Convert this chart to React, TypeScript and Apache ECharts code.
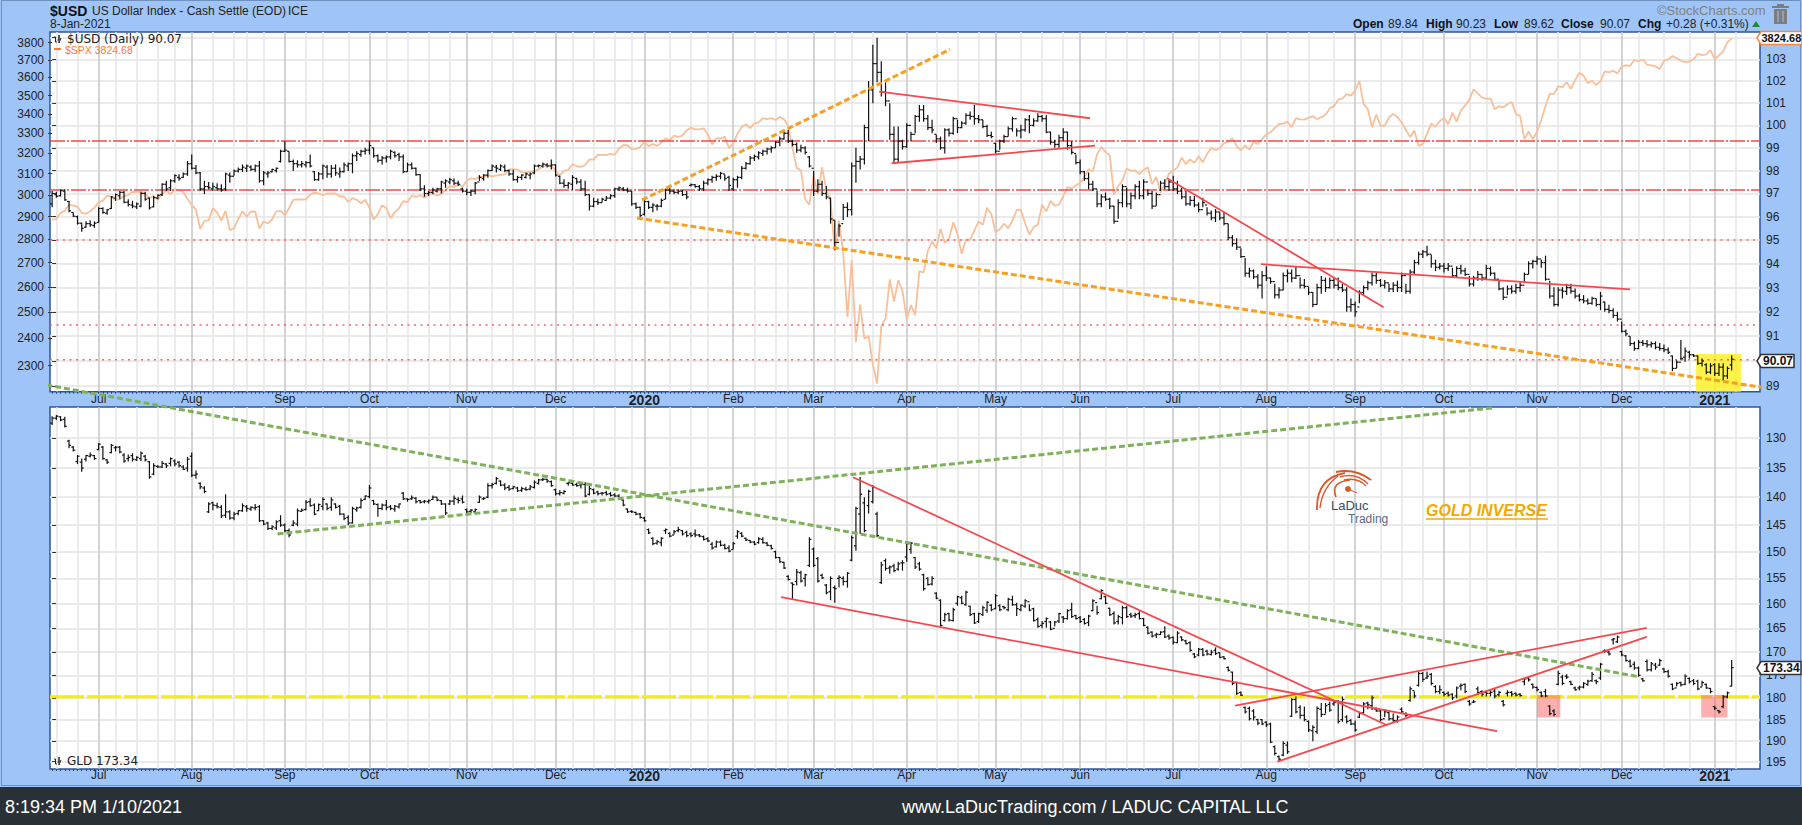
import React, { useEffect, useRef } from "react";
import * as echarts from "echarts";

// [open, high, low, close], one row per trading day, Jun 14 2019 - Jan 8 2021
const usdBars = [
[96.55,97.11,96.40,97.00],[96.95,97.07,96.82,96.88],[96.90,97.18,96.87,97.12],[97.10,97.18,96.68,96.72],[96.65,96.68,96.19,96.25],[96.18,96.19,95.98,96.02],[96.00,96.05,95.66,95.72],[95.72,95.74,95.35,95.50],[95.55,95.80,95.52,95.70],[95.70,95.84,95.56,95.65],
[95.62,95.80,95.52,95.72],[95.75,96.40,95.74,96.35],[96.35,96.40,96.12,96.18],[96.15,96.33,96.08,96.30],[96.35,96.89,96.33,96.85],[96.80,97.00,96.68,96.95],[96.90,97.11,96.75,97.05],[97.05,97.11,96.58,96.62],[96.62,96.75,96.44,96.52],[96.50,96.68,96.36,96.45],
[96.42,96.61,96.33,96.55],[96.45,97.07,96.40,97.00],[97.00,97.07,96.68,96.75],[96.80,96.82,96.30,96.38],[96.42,96.89,96.40,96.82],[96.80,96.97,96.75,96.92],[96.95,97.45,96.89,97.40],[97.40,97.55,97.11,97.20],[97.25,97.62,97.11,97.55],[97.55,97.84,97.47,97.78],
[97.70,97.84,97.55,97.65],[97.70,97.91,97.69,97.85],[97.85,98.42,97.77,98.30],[98.30,98.71,98.05,98.10],[98.10,98.24,97.84,97.90],[97.90,97.94,97.11,97.20],[97.20,97.55,96.97,97.30],[97.30,97.50,97.18,97.25],[97.20,97.47,97.11,97.30],[97.25,97.45,97.11,97.20],
[97.20,97.40,97.07,97.15],[97.20,97.91,97.11,97.85],[97.80,97.91,97.47,97.75],[97.75,98.05,97.77,97.98],[97.98,98.13,97.91,98.05],[98.05,98.27,97.94,98.15],[98.10,98.27,97.94,98.20],[98.15,98.23,97.98,98.05],[98.05,98.27,97.94,98.20],[98.20,98.42,97.47,97.55],
[97.55,97.98,97.36,97.90],[97.85,97.98,97.69,97.90],[97.95,98.08,97.91,98.05],[98.00,98.13,97.91,98.10],[98.40,98.92,98.35,98.85],[98.85,99.29,98.82,98.90],[98.85,98.85,98.35,98.40],[98.40,98.49,97.98,98.30],[98.30,98.45,98.13,98.25],[98.25,98.42,98.13,98.30],
[98.25,98.42,98.13,98.35],[98.35,98.71,98.13,98.20],[97.95,97.98,97.55,97.60],[97.60,97.94,97.55,97.85],[97.85,98.27,97.62,98.20],[98.15,98.24,97.69,97.85],[97.85,98.24,97.69,98.10],[98.10,98.27,97.77,97.90],[97.85,98.13,97.69,97.95],[97.95,98.35,97.91,98.25],
[98.20,98.35,97.98,98.30],[98.30,98.75,97.88,98.65],[98.65,98.85,98.42,98.75],[98.70,98.92,98.61,98.85],[98.85,99.00,98.71,98.90],[98.90,99.29,98.71,99.10],[99.00,99.00,98.56,98.65],[98.65,98.71,98.35,98.45],[98.45,98.64,98.27,98.55],[98.55,98.66,98.35,98.60],
[98.60,98.92,98.49,98.85],[98.80,98.85,98.56,98.65],[98.70,98.78,98.42,98.60],[98.60,98.71,97.88,97.95],[97.95,98.35,97.94,98.25],[98.25,98.35,98.05,98.10],[98.10,98.13,97.77,97.82],[97.82,97.84,97.11,97.20],[97.20,97.36,96.86,97.00],[97.00,97.11,96.89,97.05],
[97.05,97.25,96.97,97.15],[97.10,97.25,97.04,97.20],[97.20,97.55,97.00,97.50],[97.45,97.62,97.25,97.55],[97.50,97.69,97.40,97.60],[97.55,97.65,97.36,97.45],[97.45,97.55,97.33,97.40],[97.20,97.25,97.04,97.10],[97.10,97.21,96.92,97.05],[97.05,97.15,96.89,97.10],
[97.10,97.50,96.97,97.45],[97.50,97.80,97.55,97.70],[97.65,97.84,97.55,97.80],[97.80,98.05,97.69,98.00],[98.00,98.27,97.98,98.20],[98.15,98.24,97.91,98.10],[98.05,98.27,97.98,98.20],[98.15,98.27,97.94,98.00],[98.00,98.05,97.77,97.85],[97.85,98.03,97.55,97.60],
[97.60,97.77,97.47,97.70],[97.70,97.84,97.59,97.80],[97.70,97.91,97.65,97.85],[97.80,97.91,97.62,97.85],[97.90,98.27,97.84,98.20],[98.20,98.27,98.13,98.22],[98.20,98.35,98.13,98.28],[98.25,98.32,98.13,98.20],[98.20,98.49,98.05,98.25],[98.25,98.27,97.74,97.80],
[97.75,97.77,97.40,97.45],[97.45,97.62,97.25,97.35],[97.35,97.50,97.21,97.45],[97.40,97.80,97.15,97.70],[97.65,97.69,97.40,97.50],[97.50,97.62,97.11,97.20],[97.20,97.55,96.89,96.95],[96.95,96.97,96.26,96.45],[96.45,96.82,96.40,96.65],[96.65,96.78,96.50,96.60],
[96.60,96.82,96.61,96.75],[96.70,96.89,96.68,96.80],[96.80,96.97,96.75,96.90],[96.90,97.25,96.82,97.20],[97.20,97.30,97.11,97.25],[97.20,97.28,97.11,97.15],[97.15,97.25,97.04,97.10],[97.10,97.11,96.47,96.55],[96.55,96.61,96.33,96.40],[96.40,96.44,95.98,96.05],
[96.10,96.75,96.05,96.65],[96.65,96.68,96.33,96.40],[96.40,96.58,96.19,96.50],[96.45,96.54,96.26,96.45],[96.45,96.78,96.40,96.70],[96.75,97.21,96.75,97.15],[97.15,97.25,96.97,97.10],[97.10,97.18,96.97,97.05],[97.05,97.18,96.97,97.10],[97.10,97.15,96.89,96.95],
[96.95,97.11,96.75,96.85],[97.35,97.43,97.30,97.38],[97.38,97.40,97.25,97.30],[97.30,97.37,97.11,97.20],[97.20,97.55,97.11,97.45],[97.45,97.65,97.36,97.60],[97.60,97.77,97.47,97.70],[97.70,97.84,97.55,97.75],[97.75,97.94,97.62,97.88],[97.85,97.84,97.55,97.65],
[97.70,97.77,97.11,97.35],[97.20,97.69,97.11,97.60],[97.60,97.77,97.25,97.70],[97.70,98.20,97.62,98.10],[98.10,98.37,98.05,98.30],[98.30,98.64,98.27,98.55],[98.55,98.71,98.42,98.62],[98.60,98.85,98.49,98.78],[98.75,98.92,98.64,98.85],[98.85,99.00,98.71,98.95],
[98.95,99.07,98.78,99.00],[99.00,99.29,99.00,99.25],[99.25,99.50,99.07,99.40],[99.40,99.71,99.36,99.65],[99.65,99.79,99.22,99.30],[99.30,99.36,99.07,99.15],[99.15,99.24,98.78,98.90],[98.90,99.14,98.81,99.00],[99.00,99.07,98.71,98.80],[98.60,98.64,98.13,98.20],
[98.10,97.98,96.89,97.10],[97.10,97.62,97.04,97.40],[97.40,97.55,96.89,97.00],[97.00,97.33,96.75,96.85],[96.80,96.82,95.70,95.90],[95.85,95.84,94.58,94.90],[94.90,95.70,95.14,95.60],[95.70,96.54,95.84,96.40],[96.40,96.61,95.98,96.30],[96.30,98.35,96.05,98.20],
[98.20,99.00,97.47,98.40],[98.40,98.64,98.05,98.50],[98.50,100.03,98.27,99.90],[99.90,102.00,99.29,101.60],[101.60,103.67,101.00,102.80],[102.80,104.00,101.95,102.40],[102.40,102.91,101.30,101.50],[101.50,102.00,100.86,101.10],[101.10,101.00,99.36,99.60],[99.60,99.95,98.35,98.50],
[98.50,99.95,98.35,99.30],[99.30,99.36,98.92,99.05],[99.05,100.10,99.00,100.00],[100.00,99.72,99.29,99.60],[99.60,100.47,99.65,100.40],[100.40,100.92,100.16,100.70],[100.70,100.92,100.16,100.30],[100.30,100.47,99.79,99.90],[99.90,100.25,99.65,99.80],[99.60,99.58,99.22,99.40],
[99.40,99.50,98.92,99.00],[99.00,99.87,98.75,99.80],[99.80,99.87,99.50,99.65],[99.65,100.39,99.58,100.30],[100.30,100.25,99.65,99.90],[99.90,100.18,99.87,100.10],[100.10,100.54,100.03,100.45],[100.45,100.62,100.25,100.40],[100.40,100.92,100.03,100.30],[100.30,100.47,100.10,100.25],
[100.25,100.25,99.87,99.95],[99.95,100.03,99.48,99.55],[99.55,99.72,99.43,99.50],[99.20,99.22,98.75,98.85],[98.85,99.36,98.92,99.30],[99.30,99.58,99.22,99.50],[99.50,99.95,99.50,99.85],[99.85,100.39,99.72,100.30],[100.30,99.87,99.50,99.75],[99.75,100.03,99.43,99.80],
[99.80,100.32,99.72,100.25],[100.25,100.47,99.65,100.00],[100.00,100.32,99.95,100.20],[100.20,100.54,100.16,100.40],[100.40,100.47,100.16,100.30],[100.30,100.47,99.65,99.70],[99.70,99.72,99.14,99.25],[99.25,99.36,99.00,99.15],[99.15,99.58,99.00,99.45],[99.45,99.87,99.29,99.70],
[99.70,99.72,98.92,99.10],[99.10,99.29,98.71,98.80],[98.75,98.71,98.27,98.35],[98.35,98.49,97.84,97.95],[97.95,97.98,97.55,97.65],[97.65,97.91,97.18,97.40],[97.40,97.55,97.11,97.20],[97.20,97.11,96.40,96.55],[96.55,96.97,96.40,96.85],[96.85,97.04,96.68,96.75],
[96.75,96.82,96.33,96.45],[96.45,96.47,95.70,95.80],[95.80,96.75,95.91,96.60],[96.60,97.40,96.40,97.30],[97.30,97.25,96.40,96.55],[96.55,97.04,96.33,96.90],[96.90,97.40,96.75,97.30],[97.30,97.55,96.75,96.90],[96.90,97.62,96.75,97.50],[97.50,97.18,96.89,97.00],
[97.00,97.11,96.33,96.45],[96.45,97.04,96.47,96.95],[96.95,97.55,97.11,97.45],[97.45,97.62,97.18,97.30],[97.30,97.62,97.11,97.50],[97.50,97.77,97.11,97.20],[97.20,97.55,96.97,97.10],[97.10,97.25,96.75,96.85],[96.85,97.11,96.47,96.55],[96.55,96.89,96.47,96.70],
[96.70,96.89,96.40,96.50],[96.50,96.61,96.19,96.30],[96.30,96.82,96.40,96.60],[96.50,96.40,96.05,96.15],[96.15,96.26,95.84,95.95],[95.95,96.33,95.77,96.20],[96.20,96.19,95.84,95.95],[95.95,96.19,95.63,95.70],[95.70,95.70,95.00,95.10],[95.10,95.21,94.72,94.85],
[94.85,95.08,94.58,94.70],[94.70,94.65,94.24,94.30],[94.30,94.24,93.45,93.60],[93.60,93.83,93.42,93.70],[93.70,93.76,93.36,93.45],[93.45,93.56,92.96,93.10],[93.10,93.69,92.55,93.50],[93.50,93.89,93.28,93.40],[93.40,93.42,93.16,93.25],[93.25,93.16,92.55,92.70],
[92.70,93.02,92.55,92.90],[92.90,93.63,92.89,93.50],[93.50,93.76,93.22,93.60],[93.60,93.76,93.22,93.40],[93.40,93.89,93.36,93.50],[93.50,93.42,92.96,93.10],[93.10,93.36,92.96,93.05],[93.05,93.02,92.69,92.80],[92.80,92.82,92.19,92.30],[92.30,93.16,92.29,93.00],
[93.00,93.49,92.75,93.30],[93.30,93.42,92.82,93.00],[93.00,93.42,92.96,93.30],[93.30,93.42,92.96,93.10],[93.10,93.42,92.89,93.00],[93.00,93.16,92.82,92.90],[92.90,93.02,92.00,92.20],[92.20,92.55,92.00,92.30],[92.30,92.42,91.80,92.00],[92.20,92.89,92.35,92.80],
[92.80,93.09,92.69,93.00],[93.00,93.29,92.89,93.20],[93.20,93.63,93.09,93.50],[93.50,93.63,93.16,93.30],[93.30,93.36,93.02,93.10],[93.10,93.32,92.96,93.20],[93.20,93.16,92.82,92.95],[92.95,93.22,92.82,93.10],[93.10,93.29,92.82,93.00],[93.00,93.63,92.82,93.50],
[93.50,93.16,92.75,92.85],[92.85,93.76,92.75,93.65],[93.65,94.17,93.56,94.05],[94.05,94.51,93.96,94.40],[94.40,94.58,94.24,94.50],[94.50,94.76,94.31,94.40],[94.40,94.38,93.83,94.00],[94.00,94.17,93.69,93.85],[93.85,94.03,93.76,93.90],[93.90,94.03,93.63,93.80],
[93.80,94.03,93.69,93.90],[93.90,93.83,93.42,93.50],[93.50,93.89,93.42,93.80],[93.80,93.96,93.56,93.70],[93.70,93.83,93.49,93.55],[93.55,93.49,93.05,93.15],[93.15,93.49,93.05,93.40],[93.40,93.69,93.29,93.55],[93.55,93.56,93.29,93.40],[93.40,93.96,93.36,93.80],
[93.80,93.89,93.49,93.60],[93.60,93.63,93.29,93.35],[93.35,93.29,92.89,92.95],[92.95,93.02,92.49,92.60],[92.60,93.09,92.69,92.95],[92.95,93.09,92.75,92.85],[92.85,93.16,92.75,93.00],[93.00,93.22,92.82,93.10],[93.10,93.63,93.22,93.55],[93.55,94.10,93.56,94.00],
[94.00,94.17,93.80,94.10],[94.10,94.31,93.96,94.20],[94.20,94.17,93.83,94.05],[94.05,94.34,93.29,93.35],[93.35,93.29,92.55,92.65],[92.65,93.02,92.22,92.30],[92.30,93.02,92.22,92.90],[92.90,93.02,92.55,92.85],[92.85,93.16,92.69,93.00],[93.00,93.16,92.75,92.85],
[92.85,92.96,92.55,92.65],[92.65,92.75,92.42,92.50],[92.50,92.69,92.35,92.45],[92.45,92.55,92.29,92.35],[92.35,92.62,92.29,92.55],[92.55,92.55,92.22,92.30],[92.30,92.82,92.07,92.65],[92.40,92.42,92.00,92.10],[92.10,92.29,91.94,92.05],[92.05,92.15,91.74,91.85],
[91.85,92.00,91.60,91.70],[91.70,91.60,91.15,91.20],[91.20,91.27,91.00,91.10],[91.00,91.00,90.60,90.70],[90.70,90.79,90.41,90.50],[90.50,90.85,90.47,90.75],[90.75,90.85,90.60,90.70],[90.70,90.85,90.54,90.65],[90.65,90.79,90.54,90.70],[90.70,90.79,90.47,90.55],
[90.55,90.72,90.41,90.50],[90.50,90.66,90.35,90.45],[90.45,90.54,90.28,90.35],[90.20,90.22,89.59,89.70],[89.70,90.03,89.72,89.95],[89.95,90.85,90.03,90.10],[90.15,90.54,89.97,90.40],[90.35,90.41,90.10,90.25],[90.25,90.28,90.16,90.20],[90.20,90.22,89.84,89.90],
[89.90,90.10,89.78,90.00],[89.85,89.91,89.47,89.55],[89.55,89.91,89.47,89.80],[89.85,89.91,89.40,89.50],[89.50,89.91,89.40,89.75],[89.75,89.91,89.21,89.40],[89.40,89.78,89.28,89.70],[89.84,90.23,89.62,90.07],
];

// [open, high, low, close] of GLD; the lower panel's axis runs upside down
const gldBars = [
[127.6,127.9,126.5,126.8],[126.8,127.1,126.3,126.5],[126.6,127.3,126.5,127.1],[127.0,128.3,126.6,128.1],[130.5,131.7,130.3,131.2],[131.5,132.2,131.3,132.0],[133.9,134.3,132.8,133.0],[134.0,135.6,133.4,135.0],[133.5,133.9,132.8,132.9],[133.0,133.2,132.4,132.8],
[132.9,133.6,132.8,133.4],[131.9,132.0,130.8,131.0],[131.5,133.6,131.3,133.4],[133.6,134.3,133.5,134.0],[132.4,132.5,131.0,131.2],[131.6,132.2,131.3,131.5],[131.5,132.5,131.3,132.3],[132.8,134.1,132.5,133.8],[133.4,133.9,132.7,133.2],[132.9,133.9,132.5,133.5],
[133.6,133.8,133.0,133.2],[133.4,133.8,132.2,132.5],[133.0,133.9,132.8,133.6],[133.9,136.8,133.8,136.5],[136.0,136.2,134.2,134.6],[134.7,135.0,134.5,134.8],[134.8,135.0,133.8,134.2],[134.3,135.0,134.2,134.6],[134.2,134.7,133.2,133.4],[133.8,134.7,133.5,134.3],
[134.0,134.9,133.8,134.6],[134.8,135.3,134.5,135.2],[135.0,135.6,133.1,133.5],[133.0,136.5,132.4,136.2],[136.2,136.8,135.4,136.0],[137.6,138.6,137.4,138.2],[138.4,139.3,138.1,139.0],[142.6,142.8,140.9,141.2],[141.0,142.3,140.8,141.4],[141.5,142.0,141.0,141.7],
[141.8,143.7,141.4,143.3],[143.2,143.7,139.5,142.6],[142.6,144.0,142.3,143.7],[143.7,144.1,142.6,143.0],[142.9,143.2,142.3,142.4],[142.4,142.6,141.1,141.5],[141.7,142.6,141.4,142.0],[142.1,142.4,141.6,141.8],[141.9,142.3,141.2,141.8],[141.7,144.4,141.4,144.2],
[144.2,145.0,144.1,144.8],[144.6,145.9,144.4,145.6],[145.6,145.9,145.0,145.3],[145.5,145.9,144.1,144.4],[144.2,145.3,143.2,145.0],[145.0,146.3,144.7,146.0],[146.0,147.2,145.6,146.8],[145.0,145.2,144.1,144.6],[144.8,145.2,142.0,142.4],[142.5,142.6,142.0,142.3],
[142.2,142.3,140.5,140.9],[140.8,141.7,140.2,141.5],[141.4,143.2,141.1,143.0],[142.4,142.4,141.1,141.3],[141.6,142.3,140.0,140.4],[141.2,142.3,141.1,142.0],[141.8,142.4,140.0,140.5],[141.2,142.0,141.1,141.8],[141.6,143.2,141.4,143.0],[143.0,144.1,142.9,143.8],
[143.6,145.0,143.2,144.6],[144.6,144.7,141.7,142.0],[142.2,142.6,141.7,141.9],[141.8,142.0,140.2,140.6],[140.4,140.5,139.7,139.8],[139.9,140.2,137.9,138.4],[140.6,141.4,140.5,141.2],[141.3,143.5,141.1,142.0],[142.0,142.3,141.1,141.4],[141.4,142.3,140.5,141.8],
[141.7,142.3,141.4,142.0],[142.1,142.6,141.4,141.6],[141.7,142.0,141.1,141.2],[139.3,140.5,139.1,140.3],[140.3,140.8,140.2,140.4],[140.3,140.5,139.7,140.1],[140.2,141.1,140.0,140.8],[140.6,141.1,140.5,140.9],[140.8,141.1,140.5,140.7],[140.8,141.1,140.4,140.6],
[140.4,140.5,139.7,140.0],[140.0,140.7,140.0,140.5],[140.6,141.4,140.5,141.2],[141.2,143.2,141.1,142.8],[141.2,141.4,140.5,140.7],[140.7,141.4,139.7,140.2],[140.4,141.1,140.0,140.6],[140.3,141.1,139.7,140.9],[142.2,142.9,142.0,142.6],[142.5,142.8,142.1,142.3],
[142.6,142.9,142.0,142.2],[140.9,141.0,139.7,140.0],[140.3,140.5,140.0,140.2],[140.0,140.2,137.6,138.0],[138.0,138.5,137.5,137.8],[137.6,137.8,136.5,136.8],[137.2,138.1,137.1,137.9],[137.9,138.8,137.6,138.4],[138.3,138.9,137.9,138.6],[138.5,138.6,138.0,138.2],
[138.4,139.1,138.2,138.9],[138.8,139.1,138.2,138.5],[138.6,138.9,138.2,138.7],[138.6,138.8,137.9,138.2],[138.3,138.5,137.1,137.4],[137.6,137.8,136.8,137.0],[137.0,137.2,136.7,136.9],[136.9,137.5,136.8,137.2],[137.3,138.2,137.1,138.0],[138.7,139.7,138.5,139.4],
[139.4,139.7,138.8,139.2],[139.3,139.5,138.8,139.0],[137.6,138.0,137.4,137.5],[137.6,138.0,137.4,137.9],[137.8,138.2,137.5,138.0],[137.9,138.5,137.6,137.8],[137.8,140.0,137.4,139.8],[139.5,139.7,137.9,138.5],[138.7,139.5,138.5,139.3],[139.1,139.7,138.9,139.4],
[139.3,139.7,139.1,139.3],[139.2,139.7,138.9,139.5],[139.4,139.9,139.1,139.7],[139.6,140.0,139.3,139.8],[139.8,140.4,139.5,140.3],[140.5,141.6,140.4,141.4],[142.1,142.8,142.0,142.6],[142.5,142.8,142.3,142.6],[142.7,143.2,142.6,143.0],[143.0,143.8,142.8,143.6],
[143.7,144.4,143.5,144.2],[145.8,146.6,145.6,146.4],[147.4,148.7,147.2,148.4],[148.3,148.6,147.7,148.0],[148.2,148.9,147.2,147.4],[146.0,146.6,145.6,145.8],[146.5,147.2,146.3,147.0],[146.8,146.7,145.9,146.2],[146.0,146.3,145.3,145.8],[146.0,146.9,145.9,146.6],
[146.3,147.2,146.0,146.9],[146.6,147.2,146.3,146.9],[146.6,147.2,145.8,146.8],[146.8,147.2,146.6,147.0],[147.1,147.8,146.9,147.6],[147.5,148.1,147.2,147.9],[148.5,149.5,148.1,149.2],[149.0,149.1,147.8,148.1],[148.1,148.9,147.8,148.7],[148.7,149.5,148.4,149.3],
[149.2,150.0,148.7,149.8],[149.5,149.4,148.1,148.4],[147.0,147.5,145.9,146.2],[146.5,147.2,146.3,147.0],[147.4,147.9,147.3,147.7],[147.8,148.3,147.7,148.1],[148.1,148.7,147.9,148.5],[148.2,148.4,147.2,147.5],[147.6,148.4,147.2,148.2],[148.3,148.9,148.1,148.7],
[148.8,149.5,148.6,149.3],[149.9,151.2,149.7,151.0],[151.0,152.0,150.9,151.8],[151.9,153.2,151.8,153.0],[154.6,155.4,154.4,155.2],[155.9,159.1,155.8,156.2],[155.6,156.4,153.2,153.8],[153.9,155.8,153.5,155.5],[155.0,156.6,154.1,154.3],[152.5,152.8,147.2,147.6],
[149.4,152.8,149.1,152.5],[151.2,155.8,150.9,155.5],[154.4,155.1,154.1,154.9],[156.3,158.1,156.1,157.8],[157.6,159.3,154.6,155.0],[156.8,159.8,156.4,157.0],[155.0,156.8,154.4,154.8],[155.0,156.4,154.6,155.6],[155.6,156.8,153.8,154.0],[151.5,151.7,146.9,147.3],
[148.8,149.7,141.7,142.0],[143.0,146.6,136.5,139.5],[141.0,146.3,140.0,146.0],[141.5,142.9,138.7,139.0],[140.8,141.1,137.9,138.3],[143.0,147.2,142.6,146.9],[155.8,156.1,151.8,152.4],[151.6,153.5,151.2,153.1],[153.0,154.1,152.5,152.8],[152.6,153.8,152.2,153.5],
[153.2,153.5,151.8,152.2],[152.0,153.5,151.5,152.0],[150.9,151.8,148.1,148.4],[149.5,150.3,148.1,148.3],[151.0,153.2,150.9,152.8],[152.2,153.5,151.8,153.2],[154.3,157.4,154.1,157.0],[155.0,156.4,154.8,156.2],[156.1,156.4,154.6,155.0],[157.9,159.1,157.7,158.9],
[159.3,164.6,159.1,164.4],[163.4,163.6,161.8,162.2],[162.0,163.6,161.8,163.3],[163.4,163.6,160.8,161.2],[159.9,160.4,158.4,158.6],[158.8,160.1,158.4,159.9],[160.2,160.4,157.4,157.7],[160.5,162.5,160.4,162.2],[162.0,164.1,161.8,163.9],[163.6,163.9,161.8,162.0],
[162.2,162.5,160.4,160.8],[161.3,161.8,159.5,159.7],[160.3,161.5,160.1,161.2],[161.0,161.1,158.1,158.4],[160.4,161.5,160.1,161.2],[160.6,161.1,160.4,160.8],[161.2,161.5,158.8,159.1],[159.2,160.4,158.4,160.2],[160.2,162.5,159.8,161.0],[161.2,161.5,160.1,160.3],
[160.5,160.8,159.1,159.4],[159.6,161.5,160.1,161.3],[161.0,163.6,160.8,163.4],[163.2,164.9,162.8,164.6],[164.4,165.0,163.5,164.0],[163.6,164.9,162.8,163.0],[163.7,165.4,163.5,165.2],[165.0,164.6,163.5,163.7],[163.5,163.9,161.8,162.0],[162.7,163.9,162.5,163.0],
[163.0,163.2,161.1,161.4],[161.2,162.9,159.8,162.6],[162.4,163.2,162.2,163.0],[162.8,163.9,162.5,163.6],[163.2,164.2,162.9,164.0],[163.8,164.6,162.2,162.5],[161.4,161.5,159.1,159.4],[159.8,162.2,160.4,161.8],[159.0,159.1,157.1,157.4],[158.6,160.1,158.4,159.9],
[160.9,162.5,160.8,162.2],[162.0,164.2,161.5,163.9],[163.6,164.2,162.2,162.6],[162.8,164.2,160.4,160.8],[160.8,162.9,160.4,162.6],[162.2,162.9,161.8,162.5],[162.4,162.9,161.8,162.2],[162.0,163.2,161.5,163.0],[163.0,164.6,162.9,164.4],[164.8,166.3,164.6,166.0],
[165.8,166.9,165.6,166.6],[166.4,167.0,165.9,166.2],[166.3,166.4,165.6,165.8],[165.7,167.0,164.6,166.8],[166.6,167.4,166.3,167.0],[166.9,168.4,166.7,167.9],[168.0,168.1,165.6,166.0],[166.8,167.7,166.7,167.4],[167.6,168.4,167.4,168.2],[168.0,169.9,167.7,169.6],
[170.4,171.3,170.2,171.0],[170.6,170.9,169.1,169.4],[169.4,170.9,169.1,170.6],[169.8,170.7,169.5,170.4],[170.5,170.7,169.5,170.0],[169.6,170.6,169.0,170.3],[170.1,171.3,170.0,171.1],[171.0,171.6,170.9,171.4],[173.3,174.2,173.1,173.9],[174.3,177.2,174.2,176.8],
[176.6,179.4,176.4,179.0],[178.8,179.6,178.6,179.4],[182.2,183.6,182.0,183.2],[182.4,185.2,182.0,184.8],[183.0,185.2,182.6,184.4],[185.0,186.3,184.8,185.8],[185.0,186.3,184.9,186.0],[185.6,186.7,185.4,186.2],[186.0,190.5,185.7,190.3],[191.4,193.5,191.1,193.0],
[193.8,195.1,193.5,194.4],[193.4,193.7,190.1,190.6],[191.0,193.1,190.1,192.6],[184.2,184.4,180.1,180.4],[180.4,183.6,179.7,183.2],[182.2,184.8,181.7,184.0],[184.0,185.4,182.0,185.0],[185.4,187.9,185.2,187.4],[187.6,190.1,186.3,186.8],[187.8,188.3,182.0,182.4],
[182.6,184.4,181.2,183.8],[183.8,183.6,181.2,181.8],[181.5,183.2,180.9,182.8],[181.4,181.8,180.5,181.0],[180.8,185.9,180.5,185.4],[185.0,185.5,179.7,180.4],[184.4,185.9,184.0,185.4],[185.2,186.3,184.9,186.0],[186.0,187.8,185.2,187.4],[184.4,184.6,183.2,183.6],
[183.4,183.6,181.0,181.4],[181.2,182.6,180.9,181.6],[181.8,182.8,179.5,180.0],[182.6,183.2,182.2,183.0],[183.0,185.4,182.8,185.0],[184.8,184.4,182.6,183.2],[183.4,185.2,183.2,184.8],[184.8,185.5,183.6,185.2],[185.2,185.7,184.0,184.4],[182.6,183.6,182.2,183.2],
[183.6,184.4,183.3,184.0],[180.6,180.9,177.5,178.0],[178.4,180.1,178.6,179.6],[177.2,177.5,174.3,174.6],[174.6,176.4,174.3,175.9],[175.6,175.8,174.2,175.2],[174.8,177.2,174.5,176.8],[177.5,179.0,177.2,178.6],[178.6,179.2,177.2,178.2],[178.8,179.7,178.6,179.2],
[179.0,179.7,178.6,179.4],[179.2,180.5,179.0,180.0],[179.6,180.1,177.5,177.8],[177.4,178.3,176.8,177.2],[177.0,179.0,176.8,178.6],[180.8,181.8,180.5,181.4],[181.0,181.2,180.5,180.9],[178.0,179.4,177.5,178.8],[178.6,179.7,178.3,179.2],[178.8,179.7,178.3,179.0],
[179.0,179.7,178.3,178.8],[178.5,180.1,177.9,179.6],[179.3,179.7,178.4,178.8],[180.8,182.0,180.5,181.6],[179.0,179.7,178.3,178.8],[178.8,179.7,178.5,179.2],[179.0,179.7,178.8,179.4],[179.2,179.7,179.0,179.5],[176.4,177.2,175.6,175.8],[175.6,176.4,175.3,176.0],
[177.0,178.0,176.8,177.6],[177.7,178.6,177.5,178.2],[178.8,179.9,178.6,179.6],[178.6,179.9,178.0,179.6],[181.9,184.0,181.7,183.6],[183.0,184.2,182.6,183.8],[177.0,177.2,174.0,174.6],[175.4,177.2,174.9,176.8],[175.2,175.8,174.8,175.4],[176.4,177.2,176.2,177.0],
[177.8,178.4,177.5,178.2],[177.8,178.3,177.3,177.6],[177.6,177.9,176.5,176.8],[177.0,177.3,176.0,176.3],[176.2,176.4,174.3,174.8],[176.2,177.0,175.9,176.4],[175.6,176.0,172.3,172.6],[169.7,170.2,169.4,169.8],[170.0,170.7,169.7,170.4],[167.4,168.4,167.0,167.2],
[167.8,168.1,166.5,166.8],[169.9,170.9,169.7,170.6],[170.8,172.0,170.6,171.8],[172.0,173.3,171.6,173.0],[172.6,173.8,172.0,173.4],[173.4,175.3,173.1,175.0],[175.8,176.4,175.6,176.2],[172.0,174.2,171.6,173.8],[173.8,174.2,172.1,172.5],[172.8,173.8,172.3,173.2],
[172.8,173.0,171.4,171.8],[173.6,174.5,173.4,174.2],[174.2,175.5,173.8,175.2],[177.0,178.3,176.8,178.0],[177.8,177.5,176.5,176.8],[176.6,177.5,176.4,177.1],[177.0,177.2,174.8,175.2],[175.7,176.8,175.5,176.4],[176.2,177.2,175.8,176.8],[176.3,178.3,176.0,178.0],
[177.6,177.5,176.2,176.6],[177.0,178.0,176.8,177.8],[177.9,179.0,177.8,178.6],[182.0,182.8,181.8,182.4],[182.9,183.6,182.8,183.2],[182.0,182.4,179.4,179.8],[179.8,180.1,178.6,178.9],[177.4,177.5,171.7,173.34],
];

// $SPX close for each of the same trading days
const spxClose = [
2887,2889,2917,2926,2954,2950,2945,2917,2913,2924,2941,
2964,2973,2996,2990,2976,2980,2993,2999,3014,3013,3014,3004,2984,2995,2976,3005,3019,3003,3026,3020,3013,2980,
2953,2932,2844,2881,2883,2938,2918,2882,2926,2840,2847,2889,2924,2900,2924,2922,2847,2878,2869,2887,2924,2926,
2906,2938,2976,2979,2978,2979,3001,3010,3007,2998,3006,3006,3006,2992,2992,2967,2984,2977,2961,2977,
2940,2887,2911,2952,2938,2893,2919,2938,2970,2966,2996,2990,2998,2986,3007,3006,2996,3005,3023,3040,3037,3047,3038,
3067,3078,3074,3085,3085,3093,3087,3091,3094,3097,3120,3122,3120,3108,3104,3111,3110,3122,3134,3141,3140,
3114,3093,3113,3118,3146,3136,3133,3142,3169,3169,3192,3192,3191,3197,3192,3224,3240,3240,3221,3222,3231,
3258,3235,3246,3237,3253,3275,3265,3289,3283,3289,3317,3330,3321,3321,3326,3295,3244,3276,3273,3284,3226,
3249,3298,3334,3346,3328,3352,3357,3379,3374,3380,3370,3386,3373,3338,3226,3128,3116,2979,2954,
3090,3003,3130,3024,2972,2747,2882,2741,2481,2711,2386,2529,2398,2409,2305,2237,2447,2475,2630,2541,2627,2585,
2471,2527,2489,2664,2659,2750,2790,2761,2846,2784,2800,2875,2823,2737,2799,2798,2837,2878,2863,2940,2912,
2831,2843,2868,2848,2882,2930,2930,2870,2820,2853,2864,2954,2923,2972,2949,2955,2992,3036,3030,3044,
3056,3081,3123,3112,3194,3232,3207,3190,3002,3041,3067,3125,3114,3116,3098,3118,3131,3051,3084,3009,3053,3100,
3116,3130,3179,3146,3170,3152,3185,3155,3197,3227,3216,3225,3251,3257,3276,3236,3215,3239,3218,3258,3246,3271,
3295,3306,3327,3349,3351,3360,3333,3380,3373,3372,3381,3390,3375,3385,3397,3431,3443,3478,3484,3508,3500,
3527,3581,3455,3427,3332,3399,3339,3341,3384,3401,3385,3357,3319,3281,3315,3237,3247,3298,3351,3335,3363,
3381,3348,3409,3361,3419,3447,3477,3534,3512,3489,3483,3484,3427,3443,3436,3453,3465,3401,3391,3271,3310,3270,
3310,3370,3444,3510,3509,3550,3546,3573,3538,3585,3627,3610,3568,3582,3558,3578,3635,3629,3638,3622,
3662,3669,3666,3699,3692,3702,3673,3669,3663,3647,3695,3702,3722,3709,3695,3687,3690,3703,3735,3727,3732,3756,
3701,3726,3749,3803,3824.68,
];

const monthBars = [11, 33, 55, 75, 98, 119, 140, 161, 180, 202, 223, 243, 265, 287, 308, 329, 351, 371, 393];
const monthLabels = ["Jul", "Aug", "Sep", "Oct", "Nov", "Dec", "2020", "Feb", "Mar", "Apr", "May", "Jun", "Jul", "Aug", "Sep", "Oct", "Nov", "Dec", "2021"];
const weekBars = [1, 6, 15, 20, 25, 29, 38, 43, 46, 50, 60, 64, 70, 79, 84, 89, 94, 104, 109, 114, 123, 128, 133, 137, 146, 151, 155, 166, 171, 174, 185, 189, 194, 209, 214, 219, 229, 234, 239, 249, 254, 258, 271, 276, 281, 292, 297, 303, 314, 319, 324, 335, 339, 346, 356, 361, 366, 375, 381, 387, 398];

const usdTicks = [89, 90, 91, 92, 93, 94, 95, 96, 97, 98, 99, 100, 101, 102, 103, 104];
const spxTicks = [2300, 2400, 2500, 2600, 2700, 2800, 2900, 3000, 3100, 3200, 3300, 3400, 3500, 3600, 3700, 3800];
const gldTicks = [130, 135, 140, 145, 150, 155, 160, 165, 170, 175, 180, 185, 190, 195];

// the quote row above the upper panel: text, bold or not, left edge
const quoteRow: [string, boolean, number][] = [
  ["Open", true, 1353], ["89.84", false, 1388], ["High", true, 1426], ["90.23", false, 1456], ["Low", true, 1494], ["89.62", false, 1524],
  ["Close", true, 1561], ["90.07", false, 1600], ["Chg", true, 1638], ["+0.28 (+0.31%)", false, 1666],
];

// trendlines: [bar index, price] end points
const orangeTrends = [[[139.44, 96.72], [212.25, 103.46]], [[138.26, 95.94], [409.56, 88.81]]];
const redUsdTrends = [[[195.47, 101.52], [245.35, 100.32]], [[198.44, 98.32], [246.54, 99.1]], [[263.55, 97.66], [314.73, 92.19]], [[285.73, 93.98], [373.01, 92.93]]];
const greenTrends = [[[-11.86, 120.4], [374.9, 175.3]], [[53.27, 146.6], [340.39, 125.2]]];
const redGldTrends = [[[189.32, 136.56], [315.56, 186.3]], [[172.3, 158.7], [341.56, 187.7]], [[279.63, 181.8], [376.96, 164.9]], [[289.63, 195.0], [376.96, 166.8]]];
const dashDotLevels = [99.3, 97.15];
const dottedLevels = [95.0, 91.46, 90.05];
const gldLevel = 179.75;
const pinkZones = [[351.0, 356.5], [389.8, 396.0]];
const pinkRange = [179.4, 184.5];
const yellowZone = [388.6, 399.2, 90.28, 88.77];

const X_MIN = -0.5, X_MAX = 403.7;
const USD_RANGE = [88.77, 104.265], SPX_RANGE = [2209, 3863.7], GLD_RANGE = [125.05, 196.8];
const L = Math.log;
const SANS = "Liberation Sans, Arial, sans-serif";
const INK = "#222";

const logRows = (rows: number[][]) => rows.map((r, i) => [i, L(r[0]), L(r[1]), L(r[2]), L(r[3])]);

const renderBar = (_p: any, api: any) => {
  const i = api.value(0);
  const at = (d: number) => api.coord([i, api.value(d)]);
  const [x, yO] = at(1);
  const yH = at(2)[1], yL = at(3)[1], yC = at(4)[1];
  const style = { stroke: "#111", lineWidth: 1.2 };
  return {
    type: "group",
    children: [
      { type: "line", shape: { x1: x, y1: yH, x2: x, y2: yL }, style },
      { type: "line", shape: { x1: x - 2, y1: yO, x2: x, y2: yO }, style },
      { type: "line", shape: { x1: x, y1: yC, x2: x + 2, y2: yC }, style },
    ],
  };
};

const segment = (pts: number[][], xAxisIndex: number, yAxisIndex: number, color: string, width: number, type: any, z: number) => ({
  type: "line", xAxisIndex, yAxisIndex, data: pts.map((p) => [p[0], L(p[1])]), clip: false, silent: true, symbol: "none", z,
  lineStyle: { color, width, type }, animation: false,
});

const xAxes = (gridIndex: number, labelMargin: number) => [
  { gridIndex, type: "value", min: X_MIN, max: X_MAX, position: "bottom", axisLine: { show: false }, axisLabel: { show: false }, axisTick: { show: false, customValues: weekBars }, splitLine: { show: true, lineStyle: { color: "#e6e6e6", width: 1.5 } } },
  { gridIndex, type: "value", min: X_MIN, max: X_MAX, position: "bottom", axisLine: { show: false }, axisTick: { show: false, customValues: monthBars },
    splitLine: { show: true, lineStyle: { color: "#c4c4c4", width: 1.5 } },
    axisLabel: { show: true, customValues: monthBars, margin: labelMargin, color: INK, fontFamily: SANS, fontSize: 12, hideOverlap: false, showMinLabel: true, showMaxLabel: true,
      formatter: (v: number) => { const s = monthLabels[monthBars.indexOf(Math.round(v))]; return /^\d/.test(s) ? `{y|${s}}` : s; },
      rich: { y: { fontWeight: "bold", fontSize: 14, fontFamily: SANS, color: INK } } } },
  { gridIndex, type: "value", min: X_MIN, max: X_MAX, position: "bottom", axisLine: { show: false }, axisLabel: { show: false }, splitLine: { show: false }, axisTick: { show: true, customValues: usdBars.map((_, i) => i), length: 2, lineStyle: { color: "#1f3f7a", width: 1 } } },
];

const yAxis = (gridIndex: number, position: string, range: number[], ticks: number[], split: boolean, inverse: boolean, hidden: number[]) => ({
  gridIndex, type: "value", position, inverse, min: L(range[0]), max: L(range[1]), scale: true,
  axisLine: { show: false },
  axisTick: { show: true, length: 4, customValues: ticks.map(L), lineStyle: { color: "#333", width: 1 } },
  splitLine: { show: split, lineStyle: { color: "#e3e3e3", width: 1.5 } },
  axisLabel: { show: true, margin: 6, customValues: ticks.map(L), color: INK, fontFamily: SANS, fontSize: 12, hideOverlap: false, showMinLabel: true, showMaxLabel: true,
    formatter: (v: number) => { const n = Math.round(Math.exp(v)); return hidden.includes(n) ? "" : String(n); } },
});

const txt = (text: string, x: number, y: number, style: any = {}, z = 50) => ({
  type: "text", x, y, z, silent: true,
  style: { text, fill: INK, fontFamily: SANS, fontSize: 12, verticalAlign: "middle", align: "left", ...style },
});

const valueBox = (text: string, y: number, x2: number, border: string, fontSize = 12, textX = 1763) => [
  { type: "polygon", z: 60, silent: true, shape: { points: [[1757, y], [1761, y - 6.5], [x2, y - 6.5], [x2, y + 6.5], [1761, y + 6.5]] }, style: { fill: "#fff", stroke: border, lineWidth: 1.5 } },
  txt(text, textX, y, { fontWeight: "bold", fill: "#111", fontSize }, 61),
];

const arc = (x1: number, y1: number, cpx1: number, cpy1: number, x2: number, y2: number, w = 1.4) => ({
  type: "bezierCurve", z: 40, silent: true, shape: { x1, y1, cpx1, cpy1, x2, y2 }, style: { stroke: "#d9582c", lineWidth: w, fill: "none" },
});

const barGlyph = (x: number, y: number) => [
  { type: "polyline", z: 50, silent: true, shape: { points: [[x, y - 2], [x + 1.5, y - 2], [x + 1.5, y + 3], [x + 3, y + 3]] }, style: { stroke: "#222", lineWidth: 1, fill: "none" } },
  { type: "polyline", z: 50, silent: true, shape: { points: [[x + 3.5, y + 1], [x + 5, y + 1], [x + 5, y - 4], [x + 5, y + 4], [x + 7, y - 1]] }, style: { stroke: "#222", lineWidth: 1, fill: "none" } },
];

const graphicElements = () => [
  { type: "rect", z: 1, silent: true, shape: { x: 1.5, y: 0.5, width: 1799, height: 785 }, style: { fill: "none", stroke: "#6f8fbf", lineWidth: 1 } },
  { type: "rect", z: 1, silent: true, shape: { x: 0, y: 787, width: 1802, height: 38 }, style: { fill: "#2a3136" } },
  txt("8:19:34 PM 1/10/2021", 5, 807, { fill: "#fff", fontSize: 18 }),
  txt("www.LaDucTrading.com / LADUC CAPITAL LLC", 902, 807, { fill: "#fff", fontSize: 18 }),
  txt("$USD", 50, 11, { fontWeight: "bold", fontSize: 14, fill: "#111" }),
  txt("US Dollar Index - Cash Settle (EOD)", 92, 11),
  txt("ICE", 288, 11),
  txt("8-Jan-2021", 50, 24),
  txt("\u00A9StockCharts.com", 1657, 10, { fontSize: 13, fill: "#808080" }),
  ...quoteRow.map(([t, bold, x]) => txt(t, x, 24, bold ? { fontWeight: "bold", fill: "#111" } : {})),
  { type: "polygon", z: 50, silent: true, shape: { points: [[1752, 27], [1756, 21], [1760, 27]] }, style: { fill: "#1f8a3b" } },
  { type: "rect", z: 50, silent: true, shape: { x: 1772, y: 6, width: 17, height: 2 }, style: { fill: "#7d7d7d" } },
  { type: "rect", z: 50, silent: true, shape: { x: 1777, y: 4, width: 7, height: 2 }, style: { fill: "#7d7d7d" } },
  { type: "rect", z: 50, silent: true, shape: { x: 1774, y: 9, width: 13, height: 15 }, style: { fill: "#7d7d7d" } },
  { type: "line", z: 51, silent: true, shape: { x1: 1778, y1: 11, x2: 1778, y2: 22 }, style: { stroke: "#9fc5f8", lineWidth: 1 } },
  { type: "line", z: 51, silent: true, shape: { x1: 1783, y1: 11, x2: 1783, y2: 22 }, style: { stroke: "#9fc5f8", lineWidth: 1 } },
  ...barGlyph(54, 39),
  txt("$USD (Daily) 90.07", 67, 39, { fontFamily: "DejaVu Sans", fontSize: 12 }),
  { type: "line", z: 50, silent: true, shape: { x1: 54, y1: 49, x2: 61, y2: 49 }, style: { stroke: "#ff7a33", lineWidth: 2 } },
  txt("$SPX 3824.68", 65, 50, { fontSize: 10.5, fill: "#ff7a33" }),
  ...barGlyph(54, 761),
  txt("GLD 173.34", 67, 761, { fontFamily: "DejaVu Sans", fontSize: 12 }),
  ...valueBox("3824.68", 38, 1802, "#f08a45", 11, 1761.5),
  ...valueBox("90.07", 361, 1794, "#333"),
  ...valueBox("173.34", 668, 1801, "#333"),
  arc(1317, 510, 1316, 478, 1345, 473, 1.8),
  arc(1320, 508, 1322, 488, 1338, 476),
  arc(1336, 472, 1355, 468, 1371, 480, 2),
  arc(1340, 477, 1356, 472, 1368, 484),
  arc(1344, 480, 1358, 477, 1366, 486),
  arc(1336, 497, 1330, 482, 1350, 480, 1.6),
  { type: "circle", z: 40, silent: true, shape: { cx: 1348, cy: 489, r: 3 }, style: { fill: "#d9582c" } },
  { type: "line", z: 40, silent: true, shape: { x1: 1348, y1: 489, x2: 1357, y2: 493 }, style: { stroke: "#d9582c", lineWidth: 1 } },
  txt("LaDuc", 1331, 505, { fontSize: 13, fill: "#3b4a6b" }),
  txt("Trading", 1348, 519, { fontSize: 12, fill: "#5b6b88" }),
  txt("GOLD INVERSE", 1426, 510, { fontSize: 16, fontWeight: "bold", fontStyle: "italic", fill: "#f5a800" }),
  { type: "line", z: 50, silent: true, shape: { x1: 1426, y1: 519, x2: 1548, y2: 519 }, style: { stroke: "#f5a800", lineWidth: 1.5 } },
];

const buildOption = () => {
  const series: any[] = [
    { type: "line", xAxisIndex: 1, yAxisIndex: 0, data: [], silent: true, z: 2,
      markArea: { silent: true, z: 2, itemStyle: { color: "rgba(255,240,30,0.8)" },
        data: [[{ xAxis: yellowZone[0], yAxis: L(yellowZone[2]) }, { xAxis: yellowZone[1], yAxis: L(yellowZone[3]) }]] } },
    { type: "line", xAxisIndex: 1, yAxisIndex: 1, data: spxClose.map((v, i) => [i, L(v)]), symbol: "none", silent: true, z: 3, lineStyle: { color: "#f7c09b", width: 1.8 } },
    { type: "custom", xAxisIndex: 1, yAxisIndex: 0, data: logRows(usdBars), renderItem: renderBar, encode: { x: 0, y: [1, 2, 3, 4] }, silent: true, z: 5 },
    { type: "custom", xAxisIndex: 4, yAxisIndex: 2, data: logRows(gldBars), renderItem: renderBar, encode: { x: 0, y: [1, 2, 3, 4] }, silent: true, z: 5 },
    segment([[X_MIN, gldLevel], [X_MAX, gldLevel]], 4, 2, "#f4f000", 3, [34, 3], 3),
    { type: "line", xAxisIndex: 4, yAxisIndex: 2, data: [], silent: true, z: 4,
      markArea: { silent: true, z: 4, itemStyle: { color: "rgba(250,110,110,0.55)" },
        data: pinkZones.map((p) => [{ xAxis: p[0], yAxis: L(pinkRange[0]) }, { xAxis: p[1], yAxis: L(pinkRange[1]) }]) } },
  ];
  dashDotLevels.forEach((v) => series.push(segment([[X_MIN, v], [X_MAX, v]], 1, 0, "#f4484a", 1.5, [15, 2, 2, 2], 4)));
  dottedLevels.forEach((v) => series.push(segment([[X_MIN, v], [X_MAX, v]], 1, 0, "#f4666a", 1.6, [2, 4.5], 4)));
  orangeTrends.forEach((t) => series.push(segment(t, 1, 0, "#f5a020", 3, [6, 3], 6)));
  redUsdTrends.forEach((t) => series.push(segment(t, 1, 0, "#f4484f", 1.8, "solid", 6)));
  greenTrends.forEach((t) => series.push(segment(t, 4, 2, "#7fb05a", 3, [6, 3], 6)));
  redGldTrends.forEach((t) => series.push(segment(t, 4, 2, "#f4484f", 1.8, "solid", 6)));

  return {
    animation: false,
    backgroundColor: "#9fc5f8",
    textStyle: { fontFamily: SANS },
    grid: [
      { left: 50, top: 32, width: 1710, height: 359.7, show: true, backgroundColor: "#fff", borderColor: "#2f5597", borderWidth: 1.5, containLabel: false },
      { left: 50, top: 407, width: 1710, height: 362, show: true, backgroundColor: "#fff", borderColor: "#2f5597", borderWidth: 1.5, containLabel: false },
    ],
    xAxis: [...xAxes(0, 1), ...xAxes(1, 0)],
    yAxis: [
      yAxis(0, "right", USD_RANGE, usdTicks, true, false, [90, 104]),
      yAxis(0, "left", SPX_RANGE, spxTicks, false, false, []),
      yAxis(1, "right", GLD_RANGE, gldTicks, true, true, []),
    ],
    series,
    graphic: { elements: graphicElements() },
  };
};

export default function App() {
  const ref = useRef<HTMLDivElement>(null);
  useEffect(() => {
    document.body.style.margin = "0";
    const chart = echarts.init(ref.current!, undefined, { renderer: "svg" });
    chart.setOption(buildOption() as any);
    return () => chart.dispose();
  }, []);
  return <div ref={ref} style={{ width: 1802, height: 825 }} />;
}
